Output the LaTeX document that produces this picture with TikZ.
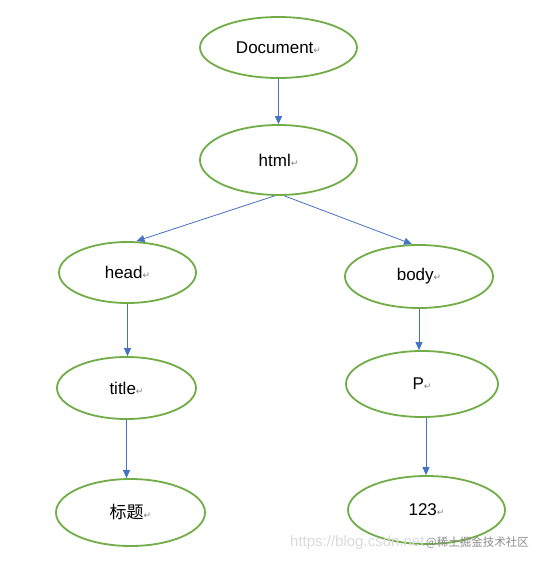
\documentclass[tikz,border=0pt]{standalone}
\usepackage{fontspec}
\setmainfont{Liberation Sans}
\newfontfamily\cjk{Noto Sans CJK SC}
\newfontfamily\symf{DejaVu Sans}
\usetikzlibrary{shapes.geometric,arrows.meta}
\definecolor{egreen}{HTML}{70AD47}
\definecolor{ablue}{HTML}{4472C4}
\newcommand{\retmark}{{\symf\fontsize{9}{9}\selectfont\color{black!50}↵}}
\begin{document}
\begin{tikzpicture}[x=1pt,y=-1pt,
  el/.style={ellipse, draw=egreen, line width=1.8pt, inner sep=0pt, font=\fontsize{17}{18}\selectfont},
  arr/.style={draw=ablue, line width=0.8pt, -{Triangle[length=8pt,width=7pt]}},
  wm/.style={inner sep=0pt, font=\fontsize{12}{12}\selectfont}]
\useasboundingbox[fill=white] (0,0) rectangle (542,565);
\node[el, minimum width=157pt, minimum height=61pt] (doc) at (278.5,47.5) {Document\retmark};
\node[el, minimum width=157pt, minimum height=70pt] (html) at (278.5,160) {html\retmark};
\node[el, minimum width=137pt, minimum height=61pt] (head) at (127.5,272.5) {head\retmark};
\node[el, minimum width=148pt, minimum height=63pt] (body) at (419,276.5) {body\retmark};
\node[el, minimum width=139pt, minimum height=62pt] (title) at (126.5,388) {title\retmark};
\node[el, minimum width=152pt, minimum height=66pt] (p) at (422,384) {P\retmark};
\node[el, minimum width=149pt, minimum height=67pt] (bt) at (130.5,512.5) {{\cjk 标题}\retmark};
\node[el, minimum width=157pt, minimum height=68pt] (n123) at (426.5,510) {123\retmark};
\draw[arr] (doc.south) -- (html.north);
\draw[arr] ([xshift=-4pt]html.south) -- ([xshift=9pt]head.north);
\draw[arr] ([xshift=6pt]html.south) -- ([xshift=-7pt]body.north);
\draw[arr] (head.south) -- (head.south |- title.north);
\draw[arr] (body.south) -- (body.south |- p.north);
\draw[arr] (title.south) -- (title.south |- bt.north);
\draw[arr] ([xshift=4pt]p.south) -- ([xshift=4pt]p.south |- n123.north);
\node[wm, anchor=west, text=black!14, font=\fontsize{15}{15}\selectfont] (wm1) at (290,543) {https://blog.csdn.net};
\node[wm, anchor=east, text=black!45, font=\fontsize{11.5}{12}\cjk] (wm2) at (529,543) {@稀土掘金技术社区};
\end{tikzpicture}
\end{document}
